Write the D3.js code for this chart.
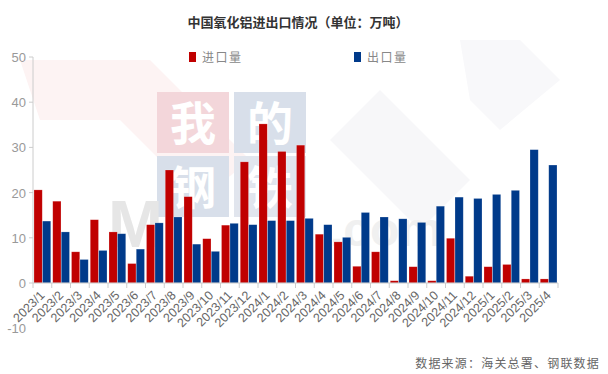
<!DOCTYPE html>
<html>
<head>
<meta charset="utf-8">
<script src="https://cdn.jsdelivr.net/npm/d3@7"></script>
<style>
  html, body { margin: 0; padding: 0; background: #fff; }
  svg { display: block; }
</style>
</head>
<body>
<svg id="chart"></svg>
<script>
// months shown on the x axis
const months = ['2023/1','2023/2','2023/3','2023/4','2023/5','2023/6','2023/7','2023/8','2023/9','2023/10','2023/11','2023/12',
  '2024/1','2024/2','2024/3','2024/4','2024/5','2024/6','2024/7','2024/8','2024/9','2024/10','2024/11','2024/12',
  '2025/1','2025/2','2025/3','2025/4'];

// 进口量 (import), 万吨
const importVals = [20.6, 18.1, 6.9, 14.0, 11.3, 4.3, 12.9, 25.0, 19.1, 9.8, 12.8, 26.8,
  35.2, 29.1, 30.5, 10.8, 9.1, 3.7, 6.9, 0.5, 3.6, 0.5, 9.9, 1.5,
  3.6, 4.1, 0.9, 0.9];

// 出口量 (export), 万吨
const exportVals = [13.7, 11.3, 5.2, 7.2, 10.9, 7.5, 13.3, 14.6, 8.6, 7.0, 13.2, 12.9,
  13.8, 13.8, 14.3, 12.9, 10.1, 15.6, 14.6, 14.2, 13.4, 17.0, 19.0, 18.7,
  19.6, 20.5, 29.5, 26.1];

const yTicks = [-10, 0, 10, 20, 30, 40, 50];
const seriesNames = ['进口量', '出口量'];
const seriesColors = ['#c00000', '#003a8a'];

const W = 608, H = 374;
const plotLeft = 33, plotRight = 558, plotTop = 57, zeroY = 283;

const svg = d3.select('#chart').attr('width', W).attr('height', H);

// faint watermark behind the chart
const wm = svg.append('g');
wm.append('path')
  .attr('d', 'M20,60 L150,60 L250,160 L200,200 L120,120 L40,120 Z')
  .attr('fill', '#fdf3f3');
wm.append('path')
  .attr('d', 'M330,140 L380,90 L470,180 L420,230 Z')
  .attr('fill', '#f7f7f9');
wm.append('path')
  .attr('d', 'M460,40 L520,40 L560,80 L500,130 L470,100 Z')
  .attr('fill', '#f8f8fa');
const squares = [
  {ch: '我', x: 157, y: 92, c: '#f3d6da'},
  {ch: '的', x: 234, y: 92, c: '#d8dfea'},
  {ch: '钢', x: 157, y: 156, c: '#d8dfea'},
  {ch: '铁', x: 234, y: 156, c: '#e1e5ed'}
];
squares.forEach(s => {
  wm.append('rect').attr('x', s.x).attr('y', s.y).attr('width', 72).attr('height', 61).attr('fill', s.c);
  wm.append('text').attr('x', s.x + 36).attr('y', s.y + 48)
    .attr('text-anchor', 'middle')
    .attr('font-family', '"Noto Sans CJK SC", sans-serif')
    .attr('font-weight', 'bold')
    .attr('font-size', 46)
    .attr('fill', '#fff')
    .text(s.ch);
});
wm.append('text')
  .attr('x', 108).attr('y', 247)
  .attr('font-family', 'Liberation Sans, Arial, sans-serif')
  .attr('font-weight', 'bold')
  .attr('font-size', 66)
  .attr('fill', '#e6e6e6')
  .text('M');
wm.append('text')
  .attr('x', 330).attr('y', 246)
  .attr('font-family', 'Liberation Sans, Arial, sans-serif')
  .attr('font-weight', 'bold')
  .attr('font-size', 48)
  .attr('fill', '#f0f0f0')
  .text('.com');

// scales
const x = d3.scaleBand().domain(months).range([plotLeft, plotRight]).paddingInner(0.08).paddingOuter(0.04);
const x1 = d3.scaleBand().domain([0, 1]).range([0, x.bandwidth()]).padding(0.03);
const y = d3.scaleLinear().domain([-10, 50]).range([zeroY + (zeroY - plotTop) / 5, plotTop]);
const step = (plotRight - plotLeft) / months.length;

// title
svg.append('text')
  .attr('x', 298).attr('y', 27)
  .attr('text-anchor', 'middle')
  .attr('font-family', '"Noto Sans CJK SC", sans-serif')
  .attr('font-weight', 'bold')
  .attr('font-size', 13)
  .attr('fill', '#333')
  .text('中国氧化铝进出口情况（单位：万吨）');

// legend
const legendX = [189, 354];
seriesNames.forEach((name, i) => {
  const g = svg.append('g').attr('transform', `translate(${legendX[i]},52)`);
  g.append('rect').attr('width', 7).attr('height', 10).attr('fill', seriesColors[i]);
  g.append('text')
    .attr('x', 13).attr('y', 9.5)
    .attr('font-family', '"Noto Sans CJK SC", sans-serif')
    .attr('font-size', 12)
    .attr('letter-spacing', 1.5)
    .attr('fill', '#888')
    .text(name);
});

// y axis
svg.append('line')
  .attr('x1', plotLeft).attr('x2', plotLeft)
  .attr('y1', y(50)).attr('y2', y(0))
  .attr('stroke', '#ccc');
svg.selectAll('.ytick')
  .data(yTicks.filter(d => d >= 0))
  .enter().append('line')
  .attr('x1', plotLeft - 4).attr('x2', plotLeft)
  .attr('y1', d => y(d)).attr('y2', d => y(d))
  .attr('stroke', '#ccc');
svg.selectAll('.ylabel')
  .data(yTicks)
  .enter().append('text')
  .attr('x', plotLeft - 7)
  .attr('y', d => y(d) + 5)
  .attr('text-anchor', 'end')
  .attr('font-family', 'Liberation Sans, Arial, sans-serif')
  .attr('font-size', 13)
  .attr('fill', '#999')
  .text(d => d);

// bars
const groups = svg.selectAll('.grp')
  .data(months)
  .enter().append('g')
  .attr('transform', d => `translate(${x(d)},0)`);

[importVals, exportVals].forEach((vals, s) => {
  groups.append('rect')
    .attr('x', x1(s))
    .attr('width', x1.bandwidth())
    .attr('y', (d, i) => y(vals[i]))
    .attr('height', (d, i) => y(0) - y(vals[i]))
    .attr('fill', seriesColors[s])
    .attr('stroke', 'rgba(255,255,255,0.35)')
    .attr('stroke-width', 0.6);
});

// x axis
svg.append('line')
  .attr('x1', plotLeft).attr('x2', plotRight)
  .attr('y1', y(0)).attr('y2', y(0))
  .attr('stroke', '#ccc');
svg.selectAll('.xtick')
  .data(d3.range(months.length + 1))
  .enter().append('line')
  .attr('x1', i => plotLeft + i * step).attr('x2', i => plotLeft + i * step)
  .attr('y1', y(0)).attr('y2', y(0) + 5)
  .attr('stroke', '#ccc');
svg.selectAll('.xlabel')
  .data(months)
  .enter().append('text')
  .attr('transform', d => `translate(${x(d) + x.bandwidth() / 2 + 3},${y(0) + 13}) rotate(-45)`)
  .attr('text-anchor', 'end')
  .attr('font-family', 'Liberation Sans, Arial, sans-serif')
  .attr('font-size', 12.5)
  .attr('fill', '#666')
  .text(d => d);

// source note
svg.append('text')
  .attr('x', 600).attr('y', 368)
  .attr('text-anchor', 'end')
  .attr('font-family', '"Noto Sans CJK SC", sans-serif')
  .attr('font-size', 12)
  .attr('letter-spacing', 1.2)
  .attr('fill', '#666')
  .text('数据来源：海关总署、钢联数据');
</script>
</body>
</html>
